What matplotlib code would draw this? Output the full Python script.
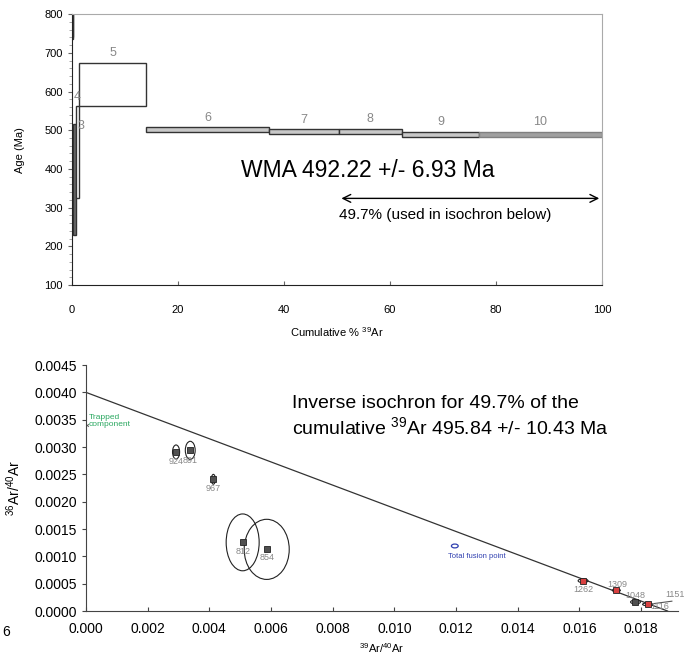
import numpy as np
import matplotlib.pyplot as plt
from matplotlib.patches import Ellipse

plt.rcParams['font.family'] = ['Liberation Sans', 'DejaVu Sans']
plt.rcParams['mathtext.default'] = 'regular'

# STEP HEATING SPECTRUM (top)
step_labels = ['1', '2', '3', '4', '5', '6', '7', '8', '9', '10']
cum_start = [0.0, 0.12, 0.25, 0.7, 1.3, 14.0, 37.1, 50.3, 62.3, 76.7]
cum_end = cum_start[1:] + [100.0]
step_age = [790, 790, 372.5, 443.5, 618.5, 502, 496.4, 496.8, 489.5, 489.1]
step_err = [55, 50, 143.5, 118.5, 56.5, 5.5, 5.9, 6.3, 6.8, 6.4]
step_fill = ['#6e6e6e', '#6e6e6e', '#6e6e6e', 'white', 'white',
             '#c8c8c8', '#c8c8c8', '#c8c8c8', '#c8c8c8', '#a0a0a0']
step_edge = ['#333333'] * 9 + ['#808080']

wma_text = "WMA 492.22 +/- 6.93 Ma"
plateau_start = 50.3
plateau_text = "49.7% (used in isochron below)"

# INVERSE ISOCHRON (bottom)
pt_labels = ['924', '891', '967', '812', '854', '1262', '1309', '1048', '1116']
ar39_ar40 = [0.00292, 0.00338, 0.00413, 0.00508, 0.00586, 0.01612, 0.0172, 0.01782, 0.01821]
ar36_ar40 = [0.00291, 0.00294, 0.00241, 0.001256, 0.001128, 0.000554, 0.000378, 0.000165, 0.000122]
ell_w = [0.00023, 0.00032, 0.00013, 0.00107, 0.00146, 0.00032, 0.00026, 0.00032, 0.00032]
ell_h = [0.000256, 0.00033, 0.00018, 0.00104, 0.0011, 0.00007, 0.00005, 0.00007, 0.00005]
pt_color = ['#505050'] * 5 + ['#d84040', '#d84040', '#505050', '#d84040']
lbl_off = [(0, -7), (0, -7), (0, -6.5), (0, -6.5), (0, -6), (0, -6), (1, 4.5), (0, 5), (9, -1.5)]

fusion_x, fusion_y = 0.01196, 0.00119
trapped_x, trapped_y = 0.00003, 0.00341
isochron_intercept = 0.00400
isochron_x_end = 0.01886

fig = plt.figure(figsize=(6.86, 6.63), dpi=100)

# ---------------- top panel ----------------
ax1 = fig.add_axes([0.105, 0.570, 0.7726, 0.4087])
widths = [e - s for s, e in zip(cum_start, cum_end)]
bottoms = [a - e for a, e in zip(step_age, step_err)]
heights = [2 * e for e in step_err]
ax1.bar(cum_start, heights, width=widths, bottom=bottoms, align='edge',
        color=step_fill, edgecolor=step_edge, linewidth=1.0, zorder=2)

for i, lab in enumerate(step_labels):
    xc = (cum_start[i] + cum_end[i]) / 2
    top = step_age[i] + step_err[i]
    if top + 25 > 800:
        continue  # labels of steps 1-2 fall above the plot
    if lab == '3':
        ax1.text(1.7, top - 5, lab, color='#888888', fontsize=9,
                 ha='center', va='center')
    else:
        ax1.text(xc, top + 25, lab, color='#888888', fontsize=9,
                 ha='center', va='center')

ax1.text(31.8, 396, wma_text, fontsize=16.5, va='center', ha='left')
ax1.annotate('', xy=(100, 324), xytext=(plateau_start, 324),
             arrowprops=dict(arrowstyle='<->', color='black', lw=1.0,
                             mutation_scale=14))
ax1.text(plateau_start, 280, plateau_text, fontsize=11, va='center', ha='left')

ax1.set_xlim(0, 100)
ax1.set_ylim(100, 800)
ax1.set_xticks(np.arange(0, 101, 20))
ax1.set_yticks(np.arange(100, 801, 100))
ax1.set_yticks(np.arange(100, 801, 20), minor=True)
ax1.tick_params(axis='both', labelsize=8, length=3, color='#666666')
ax1.tick_params(axis='x', direction='in', pad=14)
ax1.tick_params(axis='y', which='minor', length=2, color='#999999')
ax1.set_xlabel(r"Cumulative % $^{39}$Ar", fontsize=8, labelpad=8)
ax1.set_ylabel("Age (Ma)", fontsize=8, labelpad=14)
for s in ['top', 'right']:
    ax1.spines[s].set_color('#aaaaaa')
for s in ['left', 'bottom']:
    ax1.spines[s].set_color('#222222')

# ---------------- bottom panel ----------------
ax2 = fig.add_axes([0.1254, 0.0784, 0.863, 0.371])
xl = np.array([0.0, isochron_x_end])
ax2.plot(xl, isochron_intercept - isochron_intercept / isochron_x_end * xl,
         color='#333333', lw=0.9, zorder=1)

for i in range(len(pt_labels)):
    ax2.add_patch(Ellipse((ar39_ar40[i], ar36_ar40[i]), ell_w[i], ell_h[i],
                          fill=False, edgecolor='#222222', lw=0.8, zorder=2))
    ax2.plot(ar39_ar40[i], ar36_ar40[i], marker='s', ms=4.5,
             color=pt_color[i], mec='#222222', mew=0.6, zorder=3)
    ax2.annotate(pt_labels[i], (ar39_ar40[i], ar36_ar40[i]),
                 xytext=lbl_off[i], textcoords='offset points',
                 ha='center', va='center', fontsize=6.5, color='#888888')

# 1151 step, mostly off to the right
ax2.plot([0.0182, 0.0190], [0.00012, 0.00018], color='#555555', lw=0.8)
ax2.annotate('1151', (0.0190, 0.00018), xytext=(2, 5), textcoords='offset points',
             ha='center', va='center', fontsize=6.5, color='#888888',
             annotation_clip=False)

ax2.add_patch(Ellipse((fusion_x, fusion_y), 0.00022, 0.00007,
                      fill=False, edgecolor='#3040b0', lw=0.9))
ax2.text(fusion_x + 0.0007, fusion_y - 0.00019, "Total fusion point",
         fontsize=5.5, color='#3040b0', ha='center', va='center')

ax2.plot(trapped_x, trapped_y, marker='x', ms=2, color='#555555', mew=0.6)
ax2.text(trapped_x + 0.00005, trapped_y + 0.00007, "Trapped\ncomponent",
         fontsize=6, color='#2aa860', ha='left', va='center', linespacing=0.95)

ax2.text(0.00668, 0.00396,
         "Inverse isochron for 49.7% of the\n"
         r"cumulative $^{39}$Ar 495.84 +/- 10.43 Ma",
         fontsize=14, ha='left', va='top', linespacing=1.25)

ax2.set_xlim(0, 0.0192)
ax2.set_ylim(0, 0.0045)
ax2.set_xticks(np.arange(0, 0.0181, 0.002))
ax2.set_yticks(np.arange(0, 0.00451, 0.0005))
ax2.xaxis.set_major_formatter(plt.FormatStrFormatter('%.3f'))
ax2.yaxis.set_major_formatter(plt.FormatStrFormatter('%.4f'))
ax2.tick_params(axis='both', labelsize=10, length=3, color='#444444')
ax2.tick_params(axis='x', direction='in', pad=8)
ax2.set_xlabel(r"$^{39}$Ar/$^{40}$Ar", fontsize=8, labelpad=4)
ax2.set_ylabel(r"$^{36}$Ar/$^{40}$Ar", fontsize=10, labelpad=8)
for s in ['top', 'right']:
    ax2.spines[s].set_visible(False)
for s in ['left', 'bottom']:
    ax2.spines[s].set_color('#444444')

fig.text(0.004, 0.047, "6", fontsize=10, va='center')

fig.savefig("out.png", dpi=100)
